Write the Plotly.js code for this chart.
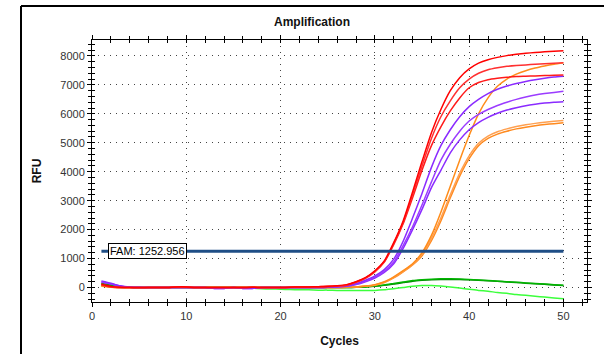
<!DOCTYPE html>
<html><head><meta charset="utf-8">
<script src="https://cdn.plot.ly/plotly-3.0.1.min.js"></script>
<style>html,body{margin:0;padding:0;background:#fff}#chart{width:604px;height:354px}</style>
</head><body><div id="chart"></div>
<script>
const cycles = [1,2,3,4,5,6,7,8,9,10,11,12,13,14,15,16,17,18,19,20,21,22,23,24,25,26,27,28,29,30,31,32,33,34,35,36,37,38,39,40,41,42,43,44,45,46,47,48,49,50];

const red1 = [120,40,10,0,0,0,0,0,20,20,0,0,0,0,0,0,10,0,0,0,10,20,20,30,40,60,100,200,340,580,920,1550,2300,3300,4350,5350,6150,6800,7250,7550,7750,7870,7950,8010,8060,8090,8120,8140,8160,8180];
const red2 = [100,30,0,0,0,0,0,0,20,20,0,0,0,0,0,0,10,0,0,0,10,20,20,30,40,50,90,190,330,560,900,1520,2250,3200,4200,5150,5900,6450,6900,7200,7400,7520,7590,7640,7670,7690,7710,7730,7745,7760];
const red3 = [90,20,0,0,-10,0,0,0,20,10,0,0,0,0,0,0,10,0,0,0,10,10,20,20,30,50,80,180,320,540,880,1480,2200,3100,4050,4900,5550,6100,6550,6900,7080,7180,7230,7265,7290,7300,7310,7320,7330,7340];

const purple1 = [230,150,60,20,10,0,0,0,0,0,0,0,-30,-30,0,-30,-30,0,0,0,0,0,0,0,10,30,60,130,250,400,620,980,1600,2400,3250,4150,4900,5450,5900,6250,6500,6700,6850,6960,7050,7120,7180,7230,7270,7300];
const purple2 = [200,130,50,10,0,0,0,0,0,0,0,0,-30,-30,0,-30,-30,0,0,0,0,0,0,0,10,20,50,110,220,360,560,880,1450,2100,2850,3650,4400,4950,5400,5750,5980,6150,6290,6400,6500,6580,6650,6700,6740,6780];
const purple3 = [180,120,40,10,0,0,0,0,0,0,0,0,-20,-20,0,-20,-20,0,0,0,0,0,0,0,10,20,40,100,200,330,520,820,1350,2000,2700,3450,4050,4650,5100,5450,5700,5880,6020,6130,6210,6280,6330,6370,6400,6420];

const orange1 = [60,20,0,0,0,0,0,0,0,0,0,0,0,0,0,0,0,0,0,0,0,0,0,0,0,0,10,20,50,100,200,370,580,820,1200,1800,2600,3500,4400,5250,6000,6550,6950,7200,7370,7490,7580,7650,7710,7760];
const orange2 = [50,20,0,0,0,0,0,0,0,0,0,0,0,0,0,0,0,0,0,0,0,0,0,0,0,0,10,20,50,90,180,350,560,800,1150,1700,2400,3200,3950,4550,4980,5230,5380,5480,5560,5620,5670,5710,5740,5770];
const orange3 = [40,10,0,0,0,0,0,0,0,0,0,0,0,0,0,0,0,0,0,0,0,0,0,0,0,0,10,15,40,80,170,330,540,780,1100,1620,2300,3100,3850,4450,4900,5150,5300,5400,5480,5540,5590,5630,5660,5690];

const green1 = [120,80,30,10,0,0,0,0,0,0,0,0,0,0,0,0,0,0,0,0,0,0,0,0,0,0,0,10,20,40,80,120,170,220,250,270,280,280,275,265,250,235,215,195,175,150,130,110,90,70];
const green2 = [140,90,40,10,0,0,0,0,0,0,0,0,0,0,0,0,0,0,0,0,0,0,0,0,0,0,0,10,20,50,90,140,190,240,270,290,300,300,295,280,260,240,220,200,180,160,140,120,100,80];
const green3 = [80,30,0,0,0,0,0,0,0,0,0,0,0,0,0,-10,-20,-40,-50,-60,-70,-80,-80,-90,-90,-100,-100,-100,-100,-100,-80,-40,0,40,70,70,50,20,-20,-60,-100,-130,-170,-200,-240,-270,-300,-330,-360,-390];

const thresholdCycles = [1, 50];
const thresholdValue = 1252.956;
const thresholdLabel = 'FAM: 1252.956';

const xTicks = [0,10,20,30,40,50];
const yTicks = [0,1000,2000,3000,4000,5000,6000,7000,8000];

const series = [
  {y: green3, c: '#3CFF3C'},
  {y: green1, c: '#008000'},
  {y: green2, c: '#00B400'},
  {y: orange3, c: '#FF8A1E'},
  {y: orange2, c: '#FFA050'},
  {y: orange1, c: '#FF8C1A'},
  {y: purple3, c: '#8A2BFF'},
  {y: purple2, c: '#9B3CFF'},
  {y: purple1, c: '#8A2BFF'},
  {y: red3, c: '#FF1A1A'},
  {y: red2, c: '#FF3030'},
  {y: red1, c: '#FF0000'}
];

const traces = series.map(s => ({
  x: cycles, y: s.y, type: 'scatter', mode: 'lines',
  line: {color: s.c, width: 1.5, shape: 'spline', smoothing: 0.6}, hoverinfo: 'skip', showlegend: false
}));
traces.push({
  x: thresholdCycles, y: [thresholdValue, thresholdValue], type: 'scatter', mode: 'lines',
  xaxis: 'x2', yaxis: 'y2',
  line: {color: '#1F4E86', width: 3}, showlegend: false, hoverinfo: 'skip'
});

const font = {family: 'Liberation Sans, Arial, sans-serif', size: 11, color: '#333'};
const gridStyle = {showgrid: true, gridcolor: '#444', gridwidth: 1, griddash: '1px,5px'};

const layout = {
  width: 604, height: 354,
  margin: {l: 92, r: 17, t: 40, b: 52},
  paper_bgcolor: '#fff', plot_bgcolor: '#fff',
  font: font,
  title: {text: 'Amplification', font: {family: font.family, size: 12, color: '#111', weight: 'bold'},
          x: 312/604, xref: 'container', xanchor: 'center', y: 1 - 22/354, yref: 'container', yanchor: 'middle'},
  xaxis: Object.assign({
    range: [0, 52.5], tickvals: xTicks, ticktext: xTicks.map(String),
    showline: true, linecolor: '#000', linewidth: 1, mirror: 'ticks',
    ticks: 'outside', ticklen: 4, tickcolor: '#000', zeroline: false,
    minor: {dtick: 2, tick0: 0, ticks: 'outside', ticklen: 3, tickcolor: '#000', showgrid: false},
    tickfont: font,
    title: {text: 'Cycles', font: {family: font.family, size: 12, color: '#111', weight: 'bold'}, standoff: 15}
  }, gridStyle),
  yaxis: Object.assign({
    range: [-500, 8550], tickvals: yTicks, ticktext: yTicks.map(String),
    showline: true, linecolor: '#000', linewidth: 1, mirror: 'ticks',
    ticks: 'outside', ticklen: 4, tickcolor: '#000', zeroline: false,
    minor: {dtick: 200, tick0: 0, ticks: 'outside', ticklen: 3, tickcolor: '#000', showgrid: false},
    tickfont: font,
    title: {text: 'RFU', font: {family: font.family, size: 12, color: '#111', weight: 'bold'}, standoff: 16}
  }, gridStyle),
  xaxis2: {overlaying: 'x', matches: 'x', showgrid: false, zeroline: false, showline: false,
    tickvals: xTicks, ticks: 'inside', ticklen: 3, tickcolor: '#000', mirror: 'ticks', showticklabels: false,
    minor: {dtick: 2, tick0: 0, ticks: 'inside', ticklen: 3, tickcolor: '#000', showgrid: false}},
  yaxis2: {overlaying: 'y', matches: 'y', showgrid: false, zeroline: false, showline: false,
    tickvals: yTicks, ticks: 'inside', ticklen: 3, tickcolor: '#000', mirror: 'ticks', showticklabels: false,
    minor: {dtick: 200, tick0: 0, ticks: 'inside', ticklen: 3, tickcolor: '#000', showgrid: false}},
  annotations: [{
    x: 1.7, y: thresholdValue, xref: 'x', yref: 'y', xanchor: 'left', yanchor: 'middle',
    text: thresholdLabel, showarrow: false, bgcolor: '#fff', bordercolor: '#000', borderwidth: 1, borderpad: 1,
    font: {family: font.family, size: 11, color: '#000'}
  }],
  shapes: [
    {type: 'line', xref: 'paper', yref: 'paper', x0: (21-92)/495, x1: (21-92)/495, y0: (302-6)/262, y1: (302-360)/262, line: {color: '#000', width: 2}},
    {type: 'line', xref: 'paper', yref: 'paper', x0: (21-92)/495, x1: (610-92)/495, y0: (302-6)/262, y1: (302-6)/262, line: {color: '#000', width: 2}}
  ]
};

Plotly.newPlot('chart', traces, layout, {staticPlot: true, displayModeBar: false});
</script>
</body></html>
